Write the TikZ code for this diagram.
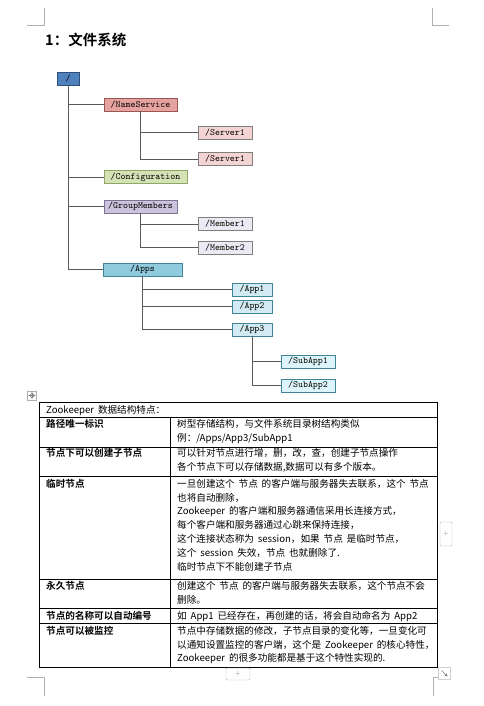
\documentclass[tikz,border=0pt]{standalone}
\usepackage{fontspec}
\usepackage{xcolor}
\newfontfamily\cjk{Noto Sans CJK SC}[BoldFont={Noto Sans CJK SC Bold},WordSpace=1.8]

\definecolor{rootfill}{HTML}{4F81BD}
\definecolor{rootline}{HTML}{2F4F7A}
\definecolor{nsfill}{HTML}{E6A29E}
\definecolor{nsline}{HTML}{9A5652}
\definecolor{srvfill}{HTML}{F4D4D2}
\definecolor{conffill}{HTML}{D5E2B6}
\definecolor{confline}{HTML}{8FA766}
\definecolor{gmfill}{HTML}{CCC3DC}
\definecolor{gmline}{HTML}{7E7296}
\definecolor{memfill}{HTML}{ECE9F2}
\definecolor{appsfill}{HTML}{8FCBDC}
\definecolor{appsline}{HTML}{3F8599}
\definecolor{appfill}{HTML}{D2EAF1}
\definecolor{subfill}{HTML}{DDF5FA}
\definecolor{leafline}{HTML}{7F7F7F}
\definecolor{uigray}{HTML}{B0B0B0}

\begin{document}
\begin{tikzpicture}[x=1pt,y=-1pt,
    dirbox/.style={draw, inner sep=0pt, minimum height=13pt, font=\fontsize{9.5}{10}\selectfont\ttfamily},
    link/.style={draw=black!65, line width=0.7pt},
    celltext/.style={anchor=north west, inner sep=0pt, align=left, font=\cjk\fontsize{9.6}{13.8}\selectfont},
    headtext/.style={celltext, font=\cjk\bfseries\fontsize{9.6}{13.8}\selectfont},
    tablerule/.style={line width=0.9pt},
    cornermark/.style={draw=uigray, line width=0.6pt}]
    \fill[white] (0,0) rectangle (483,706);
    \useasboundingbox (0,0) rectangle (483,706);

    % Page corners
    \draw[cornermark] (44,8) -- (44,25) -- (27,25);
    \draw[cornermark] (432,8) -- (432,25) -- (449,25);
    \draw[cornermark] (27,677) -- (44,677) -- (44,696);
    \draw[cornermark] (433,696) -- (433,677) -- (449,677);

    % Title
    \node[anchor=west, inner sep=0pt, font=\cjk\bfseries\fontsize{14.5}{16}\selectfont] (title) at (45,40) {1：文件系统};

    % Tree
    \node[dirbox, fill=rootfill, draw=rootline, minimum width=22pt] (root) at (68,78.5) {/};
    \node[dirbox, fill=nsfill, draw=nsline, minimum width=73pt] (ns) at (140.5,104.5) {/NameService};
    \node[dirbox, fill=srvfill, draw=leafline, minimum width=54pt] (srv1) at (225,132.5) {/Server1};
    \node[dirbox, fill=srvfill, draw=leafline, minimum width=54pt] (srv2) at (225,159) {/Server1};
    \node[dirbox, fill=conffill, draw=confline, minimum width=83pt] (conf) at (145.5,177) {/Configuration};
    \node[dirbox, fill=gmfill, draw=gmline, minimum width=73pt] (gm) at (140.5,206.5) {/GroupMembers};
    \node[dirbox, fill=memfill, draw=leafline, minimum width=54pt] (mem1) at (225,224) {/Member1};
    \node[dirbox, fill=memfill, draw=leafline, minimum width=54pt] (mem2) at (225,247.5) {/Member2};
    \node[dirbox, fill=appsfill, draw=appsline, minimum width=79pt] (apps) at (142.5,269.5) {/Apps};
    \node[dirbox, fill=appfill, draw=appsline, minimum width=40pt] (app1) at (252,289.5) {/App1};
    \node[dirbox, fill=appfill, draw=appsline, minimum width=40pt] (app2) at (252,306.5) {/App2};
    \node[dirbox, fill=appfill, draw=appsline, minimum width=40pt] (app3) at (252,329.5) {/App3};
    \node[dirbox, fill=subfill, draw=appsline, minimum width=54pt] (sub1) at (308,361.5) {/SubApp1};
    \node[dirbox, fill=subfill, draw=appsline, minimum width=54pt] (sub2) at (308,385.5) {/SubApp2};

    % Links
    \draw[link] (root.south) |- (ns.west);
    \draw[link] (root.south) |- (conf.west);
    \draw[link] (root.south) |- (gm.west);
    \draw[link] (root.south) |- (apps.west);
    \draw[link] (ns.south) |- (srv1.west);
    \draw[link] (ns.south) |- (srv2.west);
    \draw[link] (gm.south) |- (mem1.west);
    \draw[link] (gm.south) |- (mem2.west);
    \draw[link] (apps.south) |- (app1.west);
    \draw[link] (apps.south) |- (app2.west);
    \draw[link] (apps.south) |- (app3.west);
    \draw[link] (app3.south) |- (sub1.west);
    \draw[link] (app3.south) |- (sub2.west);

    % Table grid
    \draw[tablerule] (39.3,402.7) rectangle (437.3,667);
    \foreach \y in {417.3,447,476.7,579,608,623}
        \draw[tablerule] (39.3,\y) -- (437.3,\y);
    \draw[tablerule] (170.7,417.3) -- (170.7,667);

    % Table text
    \node[celltext] (head) at (46,405) {Zookeeper 数据结构特点：};
    \node[headtext] (path) at (46,419) {路径唯一标识};
    \node[celltext] (pathtxt) at (177,419) {树型存储结构，与文件系统目录树结构类似\\例：/Apps/App3/SubApp1};
    \node[headtext] (child) at (46,448) {节点下可以创建子节点};
    \node[celltext] (childtxt) at (177,448) {可以针对节点进行增，删，改，查，创建子节点操作\\各个节点下可以存储数据,数据可以有多个版本。};
    \node[headtext] (temp) at (46,479) {临时节点};
    \node[celltext] (temptxt) at (177,479) {一旦创建这个 节点 的客户端与服务器失去联系，这个 节点\\也将自动删除，\\Zookeeper 的客户端和服务器通信采用长连接方式，\\每个客户端和服务器通过心跳来保持连接，\\这个连接状态称为 session，如果 节点 是临时节点，\\这个 session 失效，节点 也就删除了.\\临时节点下不能创建子节点};
    \node[headtext] (perm) at (46,581) {永久节点};
    \node[celltext] (permtxt) at (177,581) {创建这个 节点 的客户端与服务器失去联系，这个节点不会\\删除。};
    \node[headtext] (seq) at (46,611) {节点的名称可以自动编号};
    \node[celltext] (seqtxt) at (177,611) {如 App1 已经存在，再创建的话，将会自动命名为 App2};
    \node[headtext] (watch) at (46,626) {节点可以被监控};
    \node[celltext] (watchtxt) at (177,626) {节点中存储数据的修改，子节点目录的变化等，一旦变化可\\以通知设置监控的客户端，这个是 Zookeeper 的核心特性，\\Zookeeper 的很多功能都是基于这个特性实现的.};

    % Editor handles
    \node[draw=uigray, minimum size=9pt, inner sep=0pt] (move) at (32,395.5) {};
    \draw[gray, line width=0.4pt, <->, >=stealth] ([xshift=1pt]move.west) -- ([xshift=-1pt]move.east);
    \draw[gray, line width=0.4pt, <->, >=stealth] ([yshift=-1pt]move.north) -- ([yshift=1pt]move.south);
    \node[draw=uigray, rounded corners=1pt, minimum width=12pt, minimum height=24pt, inner sep=0pt, text=gray, font=\sffamily\scriptsize] (addcol) at (446,534) {+};
    \node[draw=uigray, rounded corners=1pt, minimum width=24pt, minimum height=12pt, inner sep=0pt, text=gray, font=\sffamily\scriptsize] (addrow) at (238,674) {+};
    \node[draw=uigray!60, fill=white, minimum size=12pt, inner sep=0pt] (resize) at (444.5,673.5) {};
    \draw[gray, line width=0.4pt, ->, >=stealth] ([shift={(-3pt,3pt)}]resize.center) -- ([shift={(3pt,-3pt)}]resize.center);
\end{tikzpicture}
\end{document}
